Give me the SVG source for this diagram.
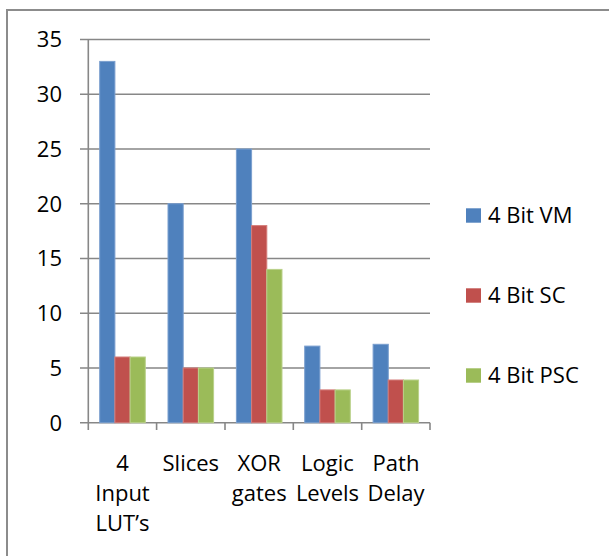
<svg xmlns="http://www.w3.org/2000/svg" width="609" height="556" viewBox="0 0 609 556">
<style>
.grid{stroke:#878787;stroke-width:1.6;fill:none}
.lbl{font-family:"Open Sans","Liberation Sans",sans-serif;font-size:22px;fill:#000}
.ylbl{text-anchor:end}
.clbl{text-anchor:middle}
.vm{fill:#4F81BD;stroke:#7A9FCF;stroke-width:1}
.sc{fill:#C0504D;stroke:#D47C7A;stroke-width:1}
.psc{fill:#9BBB59;stroke:#BAD18A;stroke-width:1}
</style>
<rect x="0" y="0" width="609" height="556" fill="#fff"/>
<g id="frame">
<path d="M7,556 V10 H609" stroke="#8c8c8c" stroke-width="2" fill="none"/>
</g>
<g id="gridlines">
<path class="grid" d="M80,39.5H430M80,94.3H430M80,149H430M80,203.7H430M80,258.5H430M80,313.2H430M80,368H430M80,422.7H430"/>
<path class="grid" d="M88.3,39.5V430M156.6,422.7V430M225,422.7V430M293.3,422.7V430M361.7,422.7V430M430,422.7V430"/>
</g>
<g id="y-labels" class="lbl ylbl">
<text x="62" y="47.3">35</text>
<text x="62" y="102.1">30</text>
<text x="62" y="156.8">25</text>
<text x="62" y="211.5">20</text>
<text x="62" y="266.3">15</text>
<text x="62" y="321">10</text>
<text x="62" y="375.8">5</text>
<text x="62" y="430.5">0</text>
</g>
<g id="series-vm">
<rect class="vm" x="99.7" y="61.4" width="15.2" height="361.3"/>
<rect class="vm" x="168" y="203.7" width="15.2" height="219"/>
<rect class="vm" x="236.4" y="149" width="15.2" height="273.7"/>
<rect class="vm" x="304.7" y="346.1" width="15.2" height="76.6"/>
<rect class="vm" x="373.1" y="344.3" width="15.2" height="78.4"/>
</g>
<g id="series-sc">
<rect class="sc" x="114.9" y="357" width="15.2" height="65.7"/>
<rect class="sc" x="183.2" y="368" width="15.2" height="54.7"/>
<rect class="sc" x="251.6" y="225.6" width="15.2" height="197.1"/>
<rect class="sc" x="319.9" y="389.9" width="15.2" height="32.8"/>
<rect class="sc" x="388.2" y="380" width="15.2" height="42.7"/>
</g>
<g id="series-psc">
<rect class="psc" x="130.1" y="357" width="15.2" height="65.7"/>
<rect class="psc" x="198.4" y="368" width="15.2" height="54.7"/>
<rect class="psc" x="266.8" y="269.4" width="15.2" height="153.3"/>
<rect class="psc" x="335.1" y="389.9" width="15.2" height="32.8"/>
<rect class="psc" x="403.4" y="380" width="15.2" height="42.7"/>
</g>
<g id="x-labels" class="lbl clbl">
<text x="122.5" y="470.7">4</text>
<text x="122.5" y="500.7">Input</text>
<text x="122.5" y="530.7">LUT’s</text>
<text x="190.8" y="470.7">Slices</text>
<text x="259.2" y="470.7">XOR</text>
<text x="259.2" y="500.7">gates</text>
<text x="327.5" y="470.7">Logic</text>
<text x="327.5" y="500.7">Levels</text>
<text x="396" y="470.7">Path</text>
<text x="396" y="500.7">Delay</text>
</g>
<g id="legend">
<g id="legend-vm"><rect x="466" y="208.3" width="15" height="14.4" fill="#4F81BD"/><text class="lbl" x="488" y="223">4 Bit VM</text></g>
<g id="legend-sc"><rect x="466" y="288.3" width="15" height="14.4" fill="#C0504D"/><text class="lbl" x="488" y="303">4 Bit SC</text></g>
<g id="legend-psc"><rect x="466" y="368.3" width="15" height="14.4" fill="#9BBB59"/><text class="lbl" x="488" y="383">4 Bit PSC</text></g>
</g>
</svg>
